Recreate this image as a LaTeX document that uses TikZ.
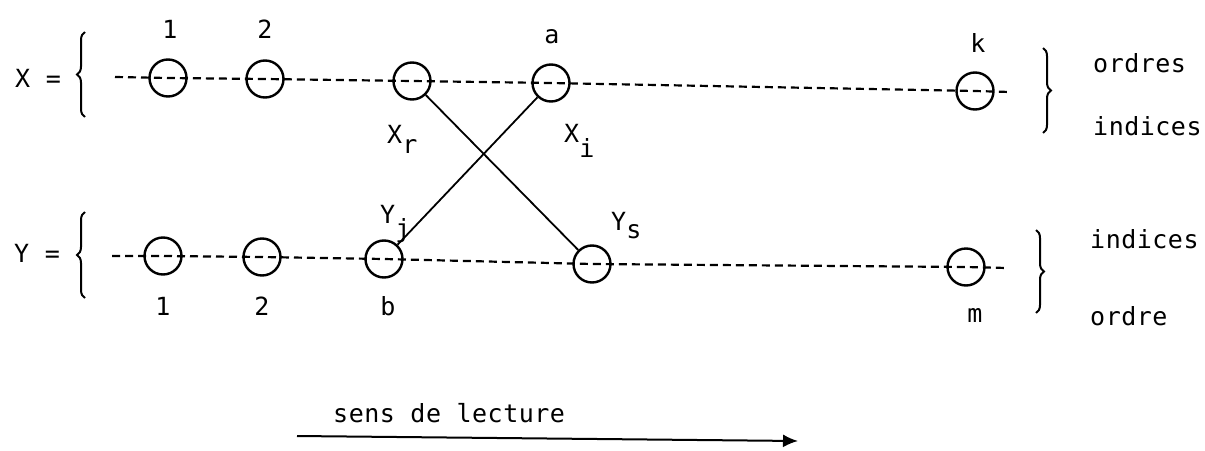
\documentclass[tikz,border=0pt]{standalone}
\usepackage{fontspec}
\setmainfont{DejaVu Sans Mono}[LetterSpace=2]
\usetikzlibrary{decorations.pathreplacing,arrows.meta}
\begin{document}
\begin{tikzpicture}[x=1pt,y=-1pt,
  font=\fontsize{25}{28}\selectfont,
  ring/.style={circle, draw, line width=2.4pt, minimum size=37pt, inner sep=0pt},
  dline/.style={line width=2.2pt, dash pattern=on 8pt off 5pt},
  link/.style={line width=1.8pt},
  lbl/.style={inner sep=0pt, anchor=base},
  lblw/.style={inner sep=0pt, anchor=base west},
  brc/.style={decorate, decoration={brace, amplitude=8pt}, line width=2pt},
  arr/.style={line width=2pt, -{Latex[length=15pt,width=13pt]}}]
\useasboundingbox (0,0) rectangle (1205,450);

% top row circles
\node[ring] (c1) at (168,78) {};
\node[ring] (c2) at (265,79) {};
\node[ring] (xr) at (412,81) {};
\node[ring] (xa) at (551,83) {};
\node[ring] (xk) at (975,91) {};
\coordinate (ts) at (115,77);
\coordinate (te) at (1010,92);
\draw[dline] (ts) -- (c1.center) -- (c2.center) -- (xr.center) -- (xa.center) -- (xk.center) -- (te);

% bottom row circles
\node[ring] (d1) at (163,256) {};
\node[ring] (d2) at (262,257) {};
\node[ring] (yb) at (384,259) {};
\node[ring] (ys) at (592,264) {};
\node[ring] (ym) at (966,267) {};
\coordinate (bs) at (112,256);
\coordinate (be) at (1007,268);
\draw[dline] (bs) -- (d1.center) -- (d2.center) -- (yb.center) -- (ys.center) -- (ym.center) -- (be);

% crossing links
\draw[link] (xr) -- (ys);
\draw[link] (xa) -- (yb);

% left labels and braces
\node[lblw] (xeq) at (15,87) {X =};
\node[lblw] (yeq) at (14,262) {Y =};
\coordinate (lb1a) at (85,117);
\coordinate (lb1b) at (85,32);
\draw[brc] (lb1a) -- (lb1b);
\coordinate (lb2a) at (85,298);
\coordinate (lb2b) at (85,212);
\draw[brc] (lb2a) -- (lb2b);

% top numbers
\node[lbl] (n1) at (170,38) {1};
\node[lbl] (n2) at (265,38) {2};
\node[lbl] (na) at (552,43) {a};
\node[lbl] (nk) at (978,52) {k};

% bottom numbers
\node[lbl] (m1) at (163,315) {1};
\node[lbl] (m2) at (262,315) {2};
\node[lbl] (mb) at (388,315) {b};
\node[lbl] (mm) at (975,322) {m};

% subscripted labels
\node[lblw] (lxr) at (387,143) {X\raisebox{-10pt}{r}};
\node[lblw] (lxi) at (564,142) {X\raisebox{-15pt}{i}};
\node[lblw] (lyj) at (380,223) {Y\raisebox{-14pt}{j}};
\node[lblw] (lys) at (611,230) {Y\raisebox{-8pt}{s}};

% right braces and texts
\coordinate (rb1a) at (1043,48);
\coordinate (rb1b) at (1043,133);
\draw[brc] (rb1a) -- (rb1b);
\coordinate (rb2a) at (1036,230);
\coordinate (rb2b) at (1036,313);
\draw[brc] (rb2a) -- (rb2b);
\node[lblw] (t1) at (1093,72) {ordres};
\node[lblw] (t2) at (1093,135) {indices};
\node[lblw] (t3) at (1090,248) {indices};
\node[lblw] (t4) at (1090,325) {ordre};

% reading direction
\node[lblw] (sens) at (333,422) {sens de lecture};
\coordinate (as) at (297,436);
\coordinate (ae) at (798,441);
\draw[arr] (as) -- (ae);
\end{tikzpicture}
\end{document}
